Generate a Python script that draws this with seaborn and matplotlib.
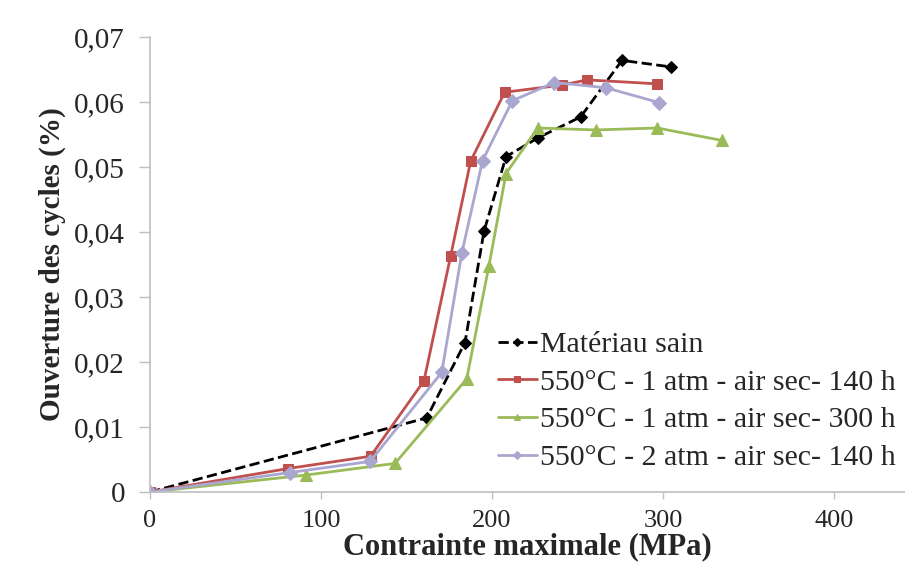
import matplotlib
matplotlib.use("Agg")
import matplotlib.pyplot as plt
import seaborn as sns
import pandas as pd
from matplotlib.ticker import FuncFormatter

# Values
x_sain = [0, 161.8, 184.2, 195.3, 208.2, 227.0, 251.8, 276.0, 304.7]
y_sain = [0, 0.0114, 0.0230, 0.0401, 0.0516, 0.0545, 0.0577, 0.0664, 0.0654]

x_1atm_140 = [0, 80.5, 129.0, 160.2, 175.8, 187.5, 207.4, 240.7, 255.7, 296.3]
y_1atm_140 = [0, 0.0036, 0.0055, 0.0171, 0.0363, 0.0509, 0.0615, 0.0626, 0.0634, 0.0628]

x_1atm_300 = [0, 91.0, 143.3, 185.2, 198.2, 208.2, 226.7, 260.6, 296.7, 334.2]
y_1atm_300 = [0, 0.0026, 0.0044, 0.0174, 0.0348, 0.0490, 0.0560, 0.0557, 0.0560, 0.0541]

x_2atm_140 = [0, 81.9, 128.7, 170.6, 182.3, 194.5, 211.9, 236.5, 266.5, 297.8]
y_2atm_140 = [0, 0.0030, 0.0047, 0.0184, 0.0367, 0.0510, 0.0602, 0.0630, 0.0622, 0.0599]

labels = ["Matériau sain",
          "550°C - 1 atm - air sec- 140 h",
          "550°C - 1 atm - air sec- 300 h",
          "550°C - 2 atm - air sec- 140 h"]
colors = ["black", "#C0504D", "#9BBB59", "#A9A6D0"]
markers = ["D", "s", "^", "D"]
sizes = [6, 7, 8, 7]
styles = ["--", "-", "-", "-"]

series = [(x_sain, y_sain), (x_1atm_140, y_1atm_140),
          (x_1atm_300, y_1atm_300), (x_2atm_140, y_2atm_140)]

sns.set_style("white")
plt.rcParams['font.family'] = ['Liberation Serif', 'DejaVu Serif']
plt.rcParams['font.size'] = 20

fig = plt.figure(figsize=(9.05, 5.64), dpi=100)
ax = fig.add_axes([150 / 905, (564 - 492) / 564, (905 - 150) / 905, (492 - 37) / 564])

for (xs, ys), lab, c, m, ms, ls in zip(series, labels, colors, markers, sizes, styles):
    df = pd.DataFrame({"x": xs, "y": ys})
    sns.lineplot(data=df, x="x", y="y", ax=ax, color=c, marker=m, markersize=ms,
                 markeredgecolor=c, linestyle=ls, linewidth=2, sort=False, label=lab)

ax.set_xlim(0, 441.5)
ax.set_ylim(0, 0.07)
ax.set_xticks([0, 100, 200, 300, 400])
ax.set_yticks([0, 0.01, 0.02, 0.03, 0.04, 0.05, 0.06, 0.07])
ax.yaxis.set_major_formatter(FuncFormatter(lambda v, p: "0" if v == 0 else f"{v:.2f}".replace(".", ",")))

for s in ["top", "right"]:
    ax.spines[s].set_visible(False)
for s in ["left", "bottom"]:
    ax.spines[s].set_color("#BFBFBF")
    ax.spines[s].set_linewidth(1.2)
ax.tick_params(axis="both", which="major", width=1, color="#BFBFBF",
               direction="out", left=True, bottom=True)
ax.tick_params(axis="y", length=8, labelsize=21, pad=10)
ax.tick_params(axis="x", length=5, labelsize=19, pad=8)

ax.set_xlabel("Contrainte maximale (MPa)", fontweight="bold", fontsize=22, labelpad=0)
ax.set_ylabel("Ouverture des cycles (%)", fontweight="bold", fontsize=21, labelpad=6)

leg = ax.legend(loc="lower left", bbox_to_anchor=(0.445, 0.02), frameon=False,
                handlelength=1.3, handletextpad=0.1, labelspacing=0.36, fontsize=21.5,
                borderaxespad=0)
for h in leg.legend_handles:
    h.set_markersize(4)

fig.savefig("out.png", dpi=100)
